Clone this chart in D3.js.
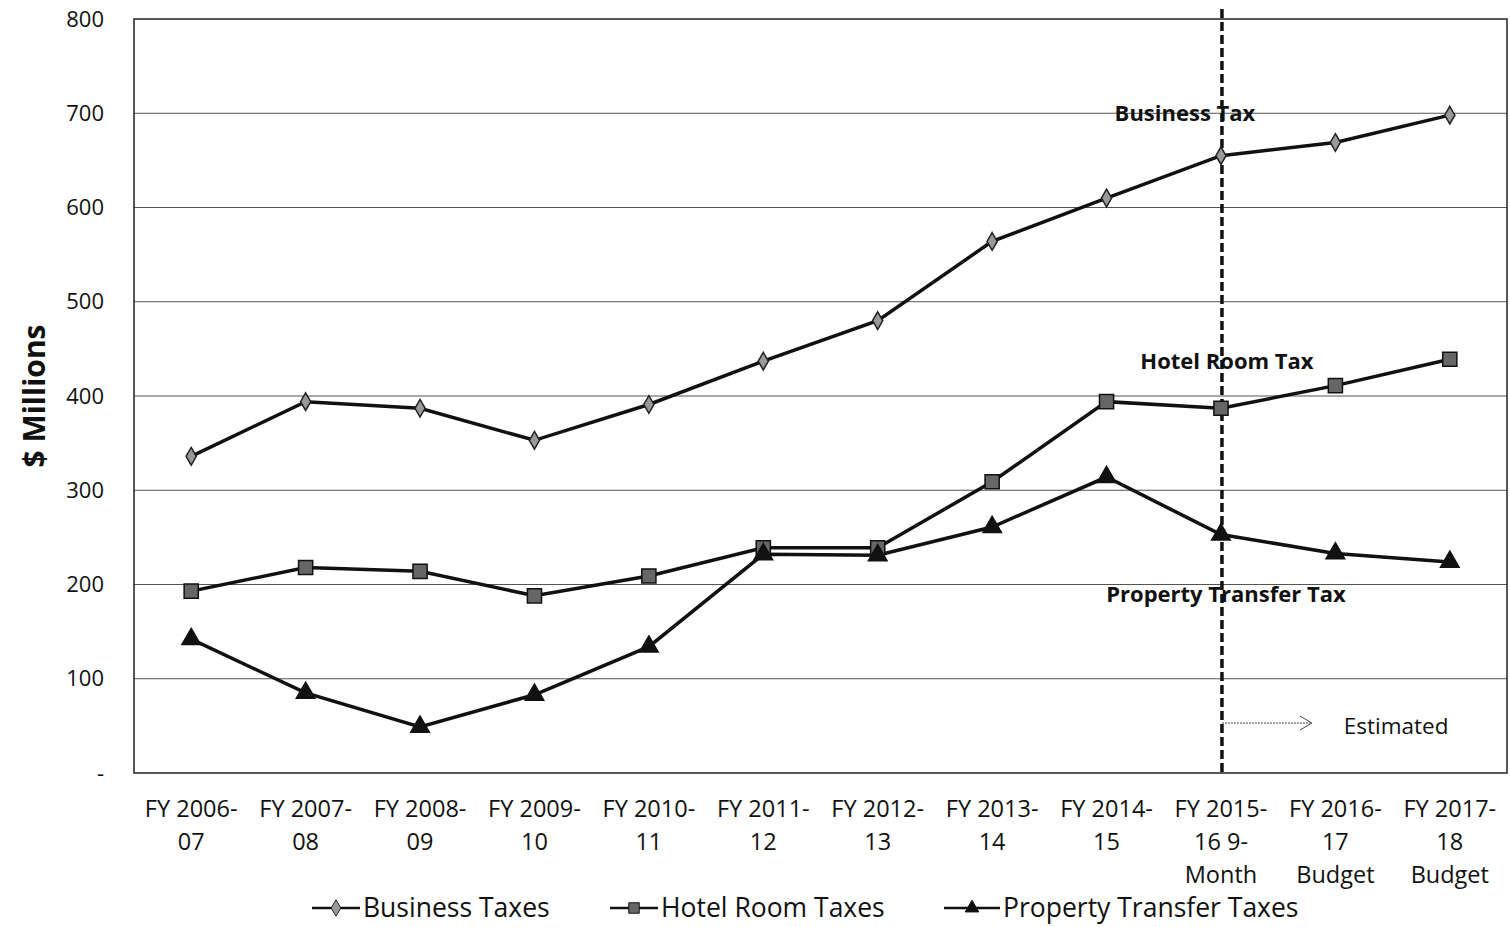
<!DOCTYPE html>
<meta charset="utf-8">
<script src="https://d3js.org/d3.v7.min.js"></script>
<style>
  body { margin: 0; background: #fff; }
  text { font-family: "Open Sans", sans-serif; fill: #111; }
</style>
<div id="chart"></div>
<script>
  // data ($ millions)
  var years = [
    ["FY 2006-", "07"], ["FY 2007-", "08"], ["FY 2008-", "09"], ["FY 2009-", "10"],
    ["FY 2010-", "11"], ["FY 2011-", "12"], ["FY 2012-", "13"], ["FY 2013-", "14"],
    ["FY 2014-", "15"], ["FY 2015-", "16 9-", "Month"], ["FY 2016-", "17", "Budget"],
    ["FY 2017-", "18", "Budget"]
  ];
  var businessTaxes = [336, 394, 387, 353, 391, 437, 480, 564, 610, 655, 669, 698];
  var hotelTaxes    = [193, 218, 214, 188, 209, 239, 239, 309, 394, 387, 411, 439];
  var propertyTaxes = [142,  85,  49,  83, 134, 232, 231, 261, 314, 253, 233, 224];
  var yTicks = [0, 100, 200, 300, 400, 500, 600, 700, 800];
  var seriesNames = ["Business Taxes", "Hotel Room Taxes", "Property Transfer Taxes"];

  var W = 1510, H = 927;
  var margin = {top: 19, right: 3, bottom: 154, left: 134};
  var width = W - margin.left - margin.right,
      height = H - margin.top - margin.bottom;

  var svg = d3.select("#chart").append("svg")
      .attr("width", W).attr("height", H);
  var g = svg.append("g")
      .attr("transform", "translate(" + margin.left + "," + margin.top + ")");

  var x = d3.scaleBand().domain(d3.range(years.length)).range([0, width]);
  var y = d3.scaleLinear().domain([0, 800]).range([height, 0]);
  var cx = function(i) { return x(i) + x.bandwidth() / 2; };

  // gridlines
  g.selectAll(".grid").data(yTicks.slice(1, -1)).enter().append("line")
    .attr("x1", 0).attr("x2", width)
    .attr("y1", d => y(d)).attr("y2", d => y(d))
    .attr("stroke", "#555").attr("stroke-width", 1.2);

  // plot frame
  g.append("rect").attr("width", width).attr("height", height)
    .attr("fill", "none").attr("stroke", "#222").attr("stroke-width", 1.5);

  // y tick labels
  g.selectAll(".ylab").data(yTicks).enter().append("text")
    .attr("x", -30).attr("y", d => y(d)).attr("dy", "0.35em")
    .attr("text-anchor", "end").style("font-size", "22px")
    .text(d => d === 0 ? "-" : d);

  svg.append("text")
    .attr("transform", "translate(45," + (margin.top + y(400)) + ") rotate(-90)")
    .attr("text-anchor", "middle")
    .style("font-size", "30px").style("font-weight", "bold")
    .text("$ Millions");

  // x labels
  var xl = g.selectAll(".xlab").data(years).enter().append("text")
    .attr("text-anchor", "middle").style("font-size", "23.5px")
    .attr("transform", (d, i) => "translate(" + cx(i) + "," + (height + 44) + ")");
  xl.selectAll("tspan").data(d => d).enter().append("tspan")
    .attr("x", 0).attr("dy", (d, j) => j === 0 ? 0 : 33).text(d => d);

  // estimated divider
  var splitX = cx(9) + 1;
  g.append("line").attr("x1", splitX).attr("x2", splitX).attr("y1", -10).attr("y2", height)
    .attr("stroke", "#111").attr("stroke-width", 3.5).attr("stroke-dasharray", "9,4");
  g.append("line").attr("x1", splitX).attr("x2", splitX + 88)
    .attr("y1", y(53)).attr("y2", y(53))
    .attr("stroke", "#444").attr("stroke-width", 1).attr("stroke-dasharray", "2,1");
  g.append("path")
    .attr("d", "M" + (splitX + 78) + "," + (y(53) - 7) + "L" + (splitX + 90) + "," + y(53) +
         "L" + (splitX + 78) + "," + (y(53) + 7))
    .attr("fill", "none").attr("stroke", "#444").attr("stroke-width", 1);
  g.append("text").attr("x", cx(11) - 106).attr("y", y(50)).attr("dy", "0.35em")
    .style("font-size", "22.5px").text("Estimated");

  // series
  var line = d3.line().x((d, i) => cx(i)).y(d => y(d));
  var all = [businessTaxes, hotelTaxes, propertyTaxes];
  all.forEach(function(s) {
    g.append("path").datum(s).attr("d", line)
      .attr("fill", "none").attr("stroke", "#111").attr("stroke-width", 3.5);
  });

  var diamond = d3.symbol().type(d3.symbolDiamond).size(90);
  var square = d3.symbol().type(d3.symbolSquare).size(200);
  var tri = d3.symbol().type(d3.symbolTriangle).size(150);

  function markers(data, sym, fill, stroke) {
    g.selectAll(null).data(data).enter().append("path")
      .attr("d", sym)
      .attr("transform", (d, i) => "translate(" + cx(i) + "," + y(d) + ")")
      .attr("fill", fill).attr("stroke", stroke).attr("stroke-width", 1.5);
  }
  markers(businessTaxes, diamond, "#999", "#222");
  markers(hotelTaxes, square, "#666", "#111");
  markers(propertyTaxes, tri, "#111", "#111");

  // in-chart labels
  var notes = [
    {t: "Business Tax", x: cx(9) - 36, v: 700},
    {t: "Hotel Room Tax", x: cx(9) + 6, v: 437},
    {t: "Property Transfer Tax", x: cx(9) + 5, v: 190}
  ];
  g.selectAll(".note").data(notes).enter().append("text")
    .attr("x", d => d.x).attr("y", d => y(d.v)).attr("dy", "0.35em")
    .attr("text-anchor", "middle").style("font-size", "22px").style("font-weight", "bold")
    .text(d => d.t);

  // legend
  var legY = 908;
  var legX = [312, 610, 944];
  var legLen = [48, 48, 56];
  var legSyms = [[diamond, "#999", "#222"], [square, "#666", "#111"], [tri, "#111", "#111"]];
  seriesNames.forEach(function(name, k) {
    var lg = svg.append("g").attr("transform", "translate(" + legX[k] + "," + legY + ")");
    lg.append("line").attr("x1", 0).attr("x2", legLen[k]).attr("stroke", "#111").attr("stroke-width", 2.5);
    lg.append("path").attr("d", legSyms[k][0].size(k === 1 ? 110 : 80))
      .attr("transform", "translate(" + legLen[k] / 2 + ",0)")
      .attr("fill", legSyms[k][1]).attr("stroke", legSyms[k][2]);
    lg.append("text").attr("x", legLen[k] + 3).attr("dy", "0.35em")
      .style("font-size", "26.5px").text(name);
  });
</script>
